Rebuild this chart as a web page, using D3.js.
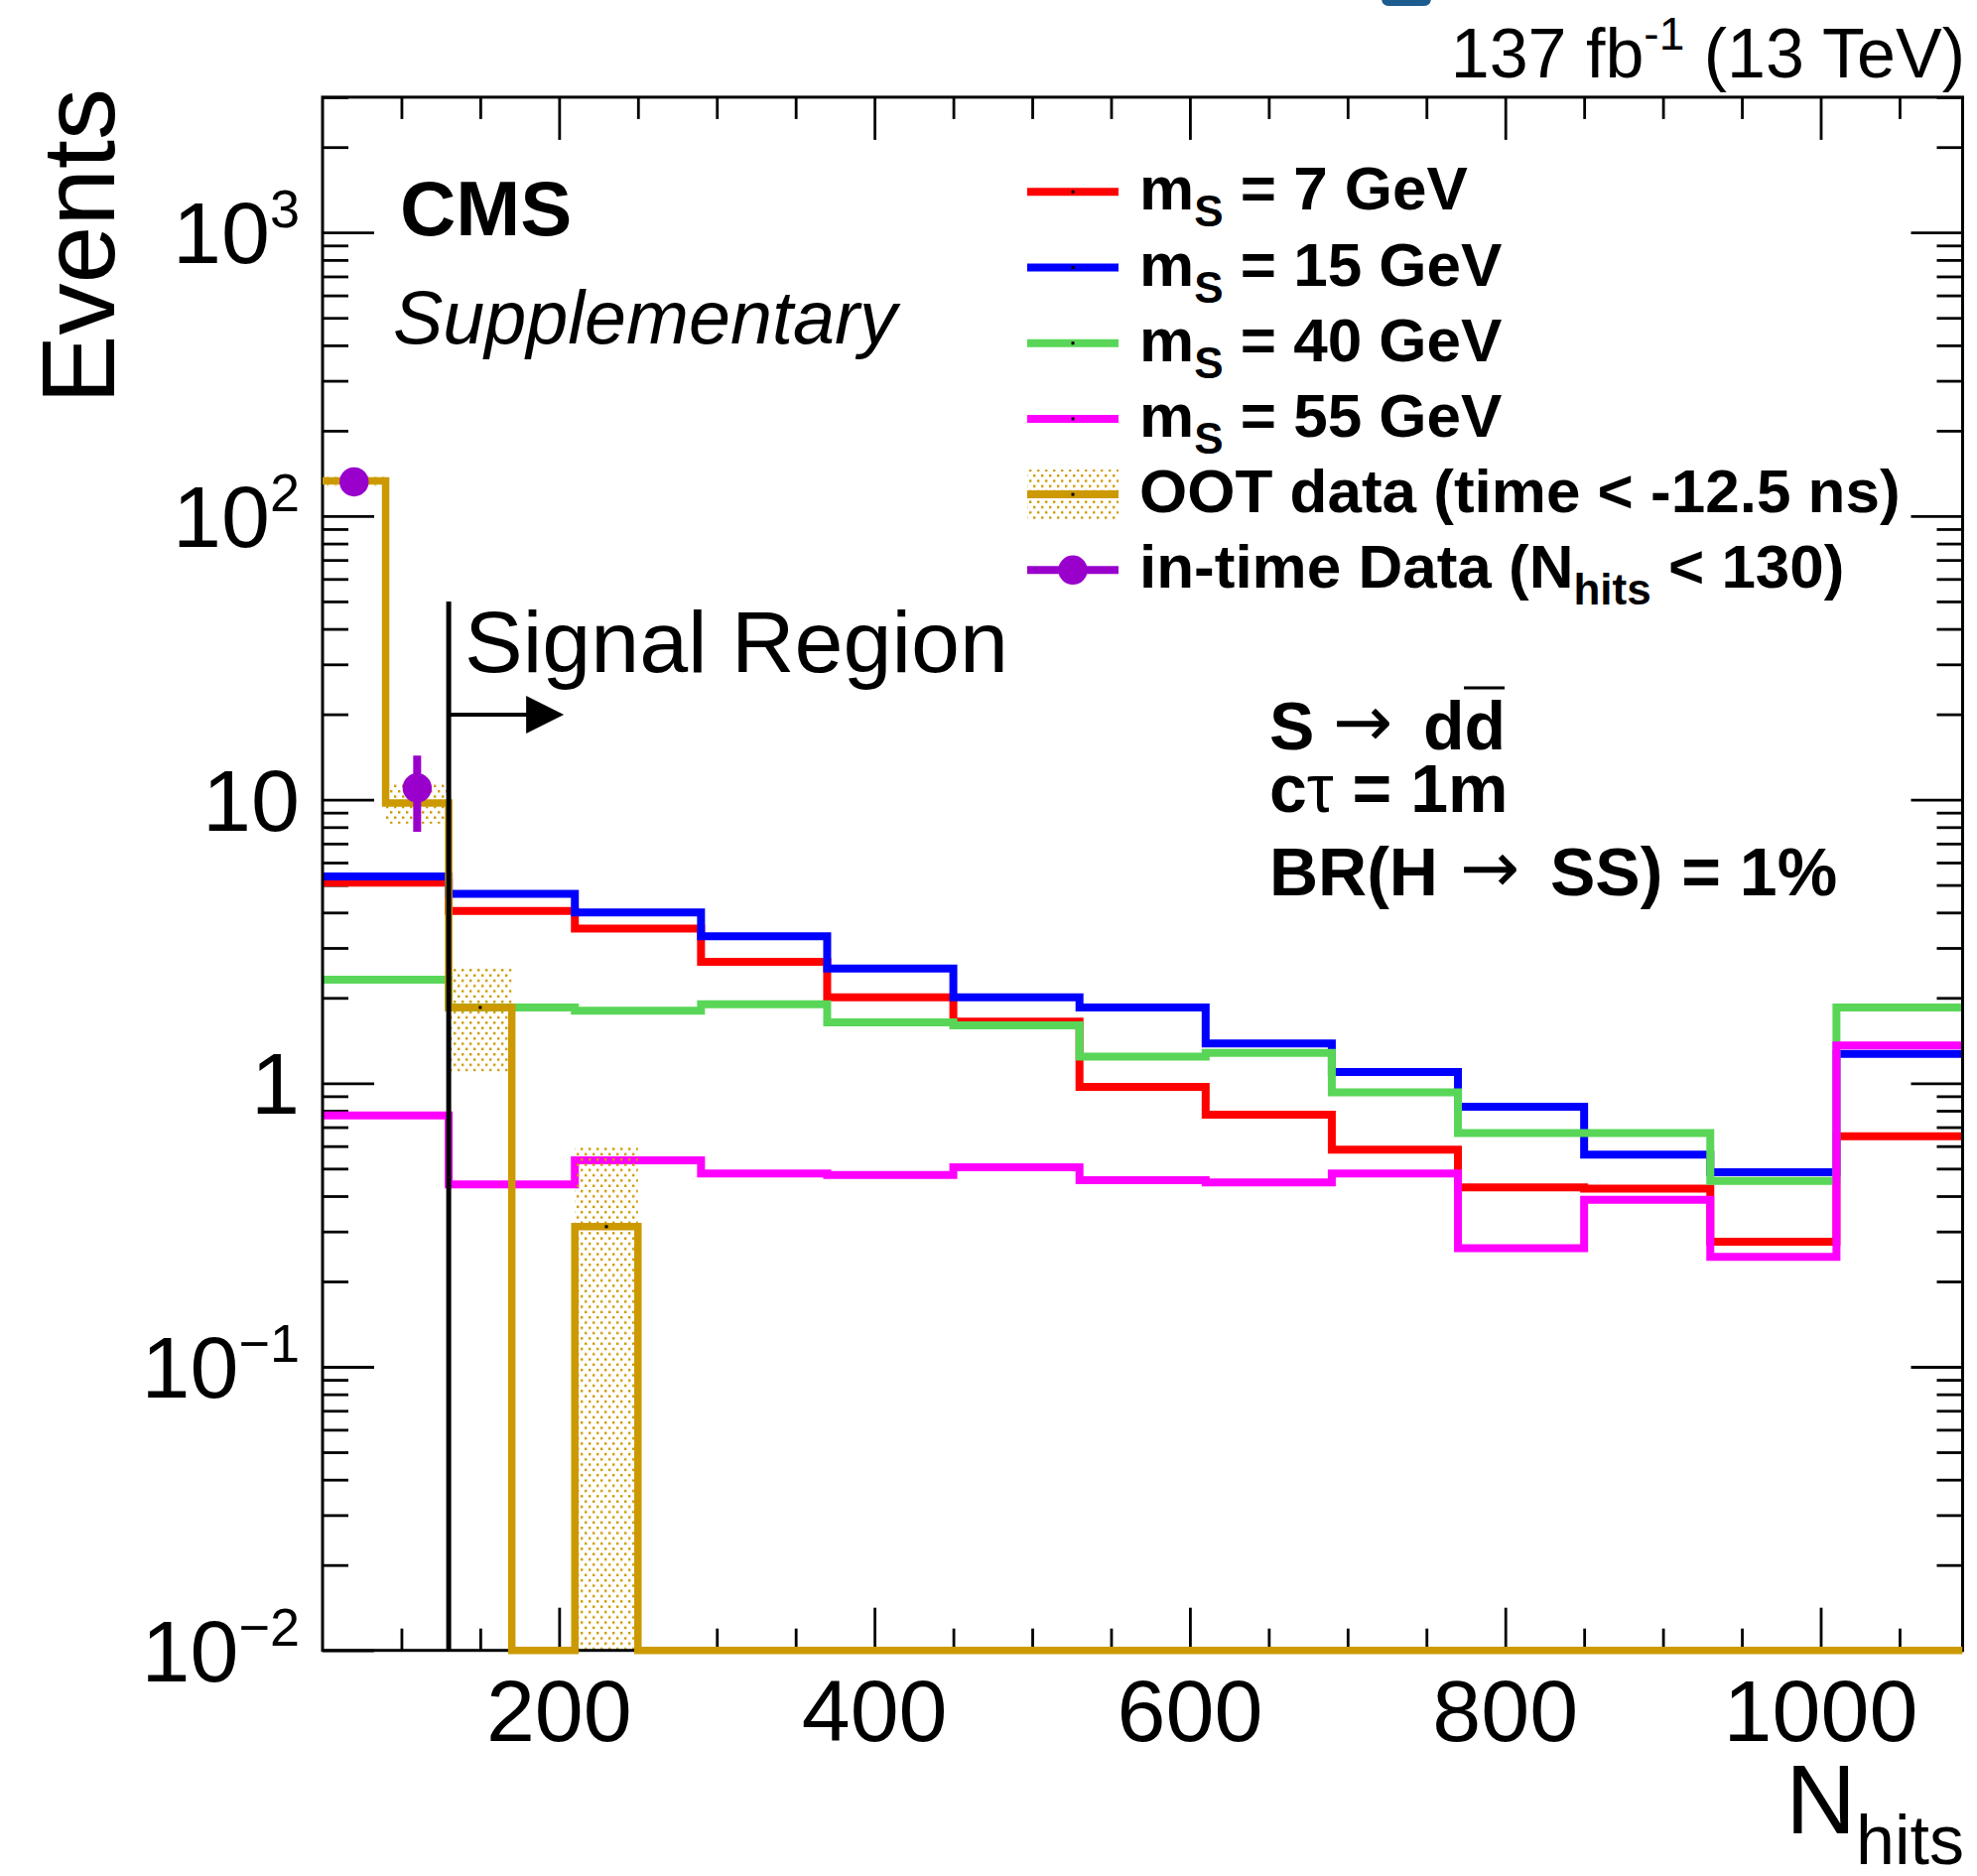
<!DOCTYPE html>
<html>
<head>
<meta charset="utf-8">
<script src="https://cdn.jsdelivr.net/npm/d3@7"></script>
<style>
  html, body { margin: 0; padding: 0; background: #fff; }
  svg { display: block; font-family: "Liberation Sans", Arial, Helvetica, sans-serif; }
</style>
</head>
<body>
<svg id="chart" width="1992" height="1890"></svg>
<script>
// bin edges (N hits)
var sigEdges = [50, 130, 210, 290, 370, 450, 530, 610, 690, 770, 850, 930, 1010, 1090];
var ootEdges = [50, 90, 130, 170, 210, 250, 290, 330, 370, 410, 450, 490, 530, 570,
                610, 650, 690, 730, 770, 810, 850, 890, 930, 970, 1010, 1050, 1090];

// signal histograms
var ms7  = [5.1, 4.05, 3.51, 2.68, 2.01, 1.65, 0.97, 0.775, 0.583, 0.429, 0.425, 0.276, 0.65];
var ms15 = [5.36, 4.65, 4.0, 3.30, 2.54, 2.01, 1.85, 1.38, 1.096, 0.826, 0.56, 0.485, 1.27];
var ms40 = [2.32, 1.85, 1.80, 1.90, 1.64, 1.60, 1.24, 1.28, 0.928, 0.667, 0.667, 0.452, 1.85];
var ms55 = [0.77, 0.44, 0.535, 0.48, 0.475, 0.505, 0.455, 0.447, 0.48, 0.262, 0.388, 0.244, 1.36];

// OOT data and its uncertainty band (lo, hi)
var ootVals = [133, 9.74, 1.85, 0, 0.312, 0, 0, 0, 0, 0, 0, 0, 0, 0,
               0, 0, 0, 0, 0, 0, 0, 0, 0, 0, 0, 0];
var ootLo = [128, 8.22, 1.1, 0, 0.005];
var ootHi = [138, 11.44, 2.55, 0, 0.60];

// in-time data points
var dataX  = [70, 110];
var dataY  = [132, 11.0];
var dataLo = [120.5, 7.7];
var dataHi = [143.5, 14.3];

var xMajor = [200, 400, 600, 800, 1000];
var xMinor = [100, 150, 250, 300, 350, 450, 500, 550, 650, 700, 750, 850, 900, 950, 1050];
var yMajor = [0.01, 0.1, 1, 10, 100, 1000];
var yLabels = [["10", "\u22122"], ["10", "\u22121"], ["1", ""], ["10", ""], ["10", "2"], ["10", "3"]];

var legendLabels = [["m", "S", " = 7 GeV"], ["m", "S", " = 15 GeV"], ["m", "S", " = 40 GeV"],
                    ["m", "S", " = 55 GeV"], ["OOT data (time < -12.5 ns)", "", ""],
                    ["in-time Data (N", "hits", " < 130)"]];
var colors = ["#ff0000", "#0000ff", "#59d658", "#ff00ff", "#cc9900", "#9900cc"];

var L = 325, R = 1977.5, T = 97.9, B = 1662.7;

var svg = d3.select("#chart");

var x = d3.scaleLinear().domain([50, 1090]).range([L, R]);
var y = d3.scaleLog().domain([0.01, 3000]).range([B, T]).clamp(true);

var yMinor = [];
[0.01, 0.1, 1, 10, 100, 1000].forEach(function (d) {
  for (var k = 2; k <= 9; k++) {
    if (d * k <= 3000) yMinor.push(d * k);
  }
});

// hatch pattern for OOT uncertainty
var defs = svg.append("defs");
var pat = defs.append("pattern")
  .attr("id", "dots")
  .attr("patternUnits", "userSpaceOnUse")
  .attr("width", 8).attr("height", 10.6);
pat.append("rect").attr("x", 1).attr("y", 1).attr("width", 2.4).attr("height", 2.4).attr("fill", "#cc9900");
pat.append("rect").attr("x", 5).attr("y", 6.3).attr("width", 2.4).attr("height", 2.4).attr("fill", "#cc9900");

defs.append("clipPath").attr("id", "frameClip")
  .append("rect").attr("x", L).attr("y", T).attr("width", R - L).attr("height", B - T);
// the OOT line may sit on the bottom of the frame
defs.append("clipPath").attr("id", "ootClip")
  .append("rect").attr("x", L).attr("y", T).attr("width", R - L).attr("height", B - T + 6);

// cut off logo at the very top
svg.append("path")
  .attr("d", "M1392,-20 L1442,-20 L1442,-2 Q1442,6 1434,6 L1400,6 Q1392,6 1392,-2 Z")
  .attr("fill", "#1d5c8e");

// axes ticks (inside the frame, mirrored)
function drawTicks(axis, tx, ty) {
  var g = svg.append("g").attr("transform", "translate(" + tx + "," + ty + ")").call(axis);
  g.select(".domain").remove();
  g.selectAll("text").remove();
  g.selectAll("line").attr("stroke", "#000").attr("stroke-width", 2.8);
  return g;
}
drawTicks(d3.axisBottom(x).tickValues(xMajor).tickSize(-43), 0, B);
drawTicks(d3.axisBottom(x).tickValues(xMinor).tickSize(-22), 0, B);
drawTicks(d3.axisTop(x).tickValues(xMajor).tickSize(-43), 0, T);
drawTicks(d3.axisTop(x).tickValues(xMinor).tickSize(-22), 0, T);
drawTicks(d3.axisLeft(y).tickValues(yMajor).tickSize(-52), L, 0);
drawTicks(d3.axisLeft(y).tickValues(yMinor).tickSize(-26), L, 0);
drawTicks(d3.axisRight(y).tickValues(yMajor).tickSize(-52), R, 0);
drawTicks(d3.axisRight(y).tickValues(yMinor).tickSize(-26), R, 0);

// x tick labels
svg.append("g").selectAll("text")
  .data(xMajor).enter().append("text")
  .attr("x", function (d) { return x(d); })
  .attr("y", B + 91)
  .attr("text-anchor", "middle")
  .attr("font-size", 88)
  .text(function (d) { return d; });

// y tick labels
var yl = svg.append("g").selectAll("text")
  .data(yMajor).enter().append("text")
  .attr("x", 302)
  .attr("y", function (d) { return y(d) + 31; })
  .attr("text-anchor", "end")
  .attr("font-size", 88);
yl.each(function (d, i) {
  var t = d3.select(this);
  t.append("tspan").text(yLabels[i][0]);
  if (yLabels[i][1]) {
    t.append("tspan").attr("dy", -36).attr("font-size", 54).text(yLabels[i][1]);
  }
});

// histograms
var plot = svg.append("g").attr("clip-path", "url(#frameClip)");
var line = d3.line();

function stepPoints(edges, vals) {
  var pts = [];
  for (var i = 0; i < vals.length; i++) {
    var yy = vals[i] > 0 ? y(vals[i]) : B;
    pts.push([x(edges[i]), yy], [x(edges[i + 1]), yy]);
  }
  return pts;
}

[ms7, ms15, ms40, ms55].forEach(function (vals, i) {
  plot.append("path")
    .attr("d", line(stepPoints(sigEdges, vals)))
    .attr("fill", "none")
    .attr("stroke", colors[i])
    .attr("stroke-width", 8)
    .attr("stroke-linejoin", "miter")
    .attr("stroke-linecap", "butt");
});

// OOT band
plot.selectAll("rect.band")
  .data(ootLo).enter().append("rect")
  .attr("class", "band")
  .attr("x", function (d, i) { return x(ootEdges[i]); })
  .attr("width", function (d, i) { return x(ootEdges[i + 1]) - x(ootEdges[i]); })
  .attr("y", function (d, i) { return y(ootHi[i] || 0.001); })
  .attr("height", function (d, i) { return ootHi[i] > 0 ? y(d) - y(ootHi[i]) : 0; })
  .attr("fill", "url(#dots)");

// frame
svg.append("rect")
  .attr("x", L).attr("y", T).attr("width", R - L).attr("height", B - T)
  .attr("fill", "none").attr("stroke", "#000").attr("stroke-width", 3);

var ootG = svg.append("g").attr("clip-path", "url(#ootClip)");
ootG.append("path")
  .attr("d", line(stepPoints(ootEdges, ootVals)))
  .attr("fill", "none")
  .attr("stroke", colors[4])
  .attr("stroke-width", 7.5);

// small centre markers of the OOT histogram
ootG.selectAll("rect.cm")
  .data(ootVals.filter(function (d) { return d > 0; })).enter().append("rect")
  .attr("class", "cm")
  .attr("x", function (d) { var i = ootVals.indexOf(d); return x((ootEdges[i] + ootEdges[i + 1]) / 2) - 1.5; })
  .attr("y", function (d) { return y(d) - 1.5; })
  .attr("width", 3).attr("height", 3).attr("fill", "#000");

// in-time data
var pts = svg.append("g").attr("clip-path", "url(#frameClip)");
dataX.forEach(function (d, i) {
  pts.append("line")
    .attr("x1", x(d)).attr("x2", x(d))
    .attr("y1", y(dataLo[i])).attr("y2", y(dataHi[i]))
    .attr("stroke", colors[5]).attr("stroke-width", 8);
  pts.append("circle")
    .attr("cx", x(d)).attr("cy", y(dataY[i])).attr("r", 14.7)
    .attr("fill", colors[5]);
});

// signal region line and arrow
var xs = x(130);
svg.append("line")
  .attr("x1", xs).attr("x2", xs).attr("y1", 606).attr("y2", B)
  .attr("stroke", "#000").attr("stroke-width", 5);
svg.append("line")
  .attr("x1", xs).attr("x2", xs + 82).attr("y1", 720).attr("y2", 720)
  .attr("stroke", "#000").attr("stroke-width", 4);
svg.append("path")
  .attr("d", "M" + (xs + 78) + ",701 L" + (xs + 116) + ",720 L" + (xs + 78) + ",739 Z")
  .attr("fill", "#000");
svg.append("text")
  .attr("x", 468).attr("y", 677)
  .attr("font-size", 88)
  .text("Signal Region");

// CMS labels
svg.append("text").attr("x", 403).attr("y", 237)
  .attr("font-size", 78).attr("font-weight", "bold").text("CMS");
svg.append("text").attr("x", 396).attr("y", 346)
  .attr("font-size", 75.5).attr("font-style", "italic").text("Supplementary");

var lumi = svg.append("text").attr("x", 1980).attr("y", 78)
  .attr("text-anchor", "end").attr("font-size", 70);
lumi.append("tspan").text("137 fb");
lumi.append("tspan").attr("dy", -28).attr("font-size", 46).text("-1");
lumi.append("tspan").attr("dy", 28).text(" (13 TeV)");

// axis titles
svg.append("text")
  .attr("transform", "translate(115,89) rotate(-90)")
  .attr("text-anchor", "end")
  .attr("font-size", 104)
  .text("Events");
var xt = svg.append("text").attr("x", 1979).attr("y", 1847)
  .attr("text-anchor", "end").attr("font-size", 98);
xt.append("tspan").text("N");
xt.append("tspan").attr("dy", 31).attr("font-size", 70).text("hits");

// model text
var mt = svg.append("g").attr("font-weight", "bold").attr("font-size", 68);
function arrow(ax, ay) {
  mt.append("text").attr("x", ax).attr("y", ay)
    .attr("font-family", "DejaVu Sans").attr("font-weight", "normal").attr("font-size", 72)
    .text("\u2192");
}
mt.append("text").attr("x", 1279).attr("y", 755).text("S");
arrow(1343, 752);
mt.append("text").attr("x", 1434).attr("y", 755).text("dd");
mt.append("line").attr("x1", 1475).attr("x2", 1516).attr("y1", 693).attr("y2", 693)
  .attr("stroke", "#000").attr("stroke-width", 3);
var t2 = mt.append("text").attr("x", 1279).attr("y", 818);
t2.append("tspan").text("c");
t2.append("tspan").attr("font-weight", "normal").text("\u03c4");
t2.append("tspan").text(" = 1m");
mt.append("text").attr("x", 1279).attr("y", 902).text("BR(H");
arrow(1471, 899);
mt.append("text").attr("x", 1562).attr("y", 902).text("SS) = 1%");

// legend
var leg = svg.append("g");
var rowY = [193.3, 269.5, 345.7, 421.9, 498.1, 574.3];
rowY.forEach(function (ry, i) {
  if (i === 4) {
    leg.append("rect").attr("x", 1035).attr("y", ry - 25).attr("width", 92).attr("height", 50)
      .attr("fill", "url(#dots)");
  }
  leg.append("line").attr("x1", 1035).attr("x2", 1127).attr("y1", ry).attr("y2", ry)
    .attr("stroke", colors[i]).attr("stroke-width", 8);
  if (i === 5) {
    leg.append("circle").attr("cx", 1081).attr("cy", ry).attr("r", 14.7).attr("fill", colors[i]);
  } else {
    leg.append("rect").attr("x", 1079.5).attr("y", ry - 1.5).attr("width", 3).attr("height", 3).attr("fill", "#000");
  }
  var lab = legendLabels[i];
  var tx = leg.append("text").attr("x", 1148).attr("y", ry + 18)
    .attr("font-size", 62).attr("font-weight", "bold");
  tx.append("tspan").text(lab[0]);
  if (lab[1]) {
    tx.append("tspan").attr("dy", 17).attr("font-size", 44).text(lab[1]);
    tx.append("tspan").attr("dy", -17).text(lab[2]);
  }
});
</script>
</body>
</html>
